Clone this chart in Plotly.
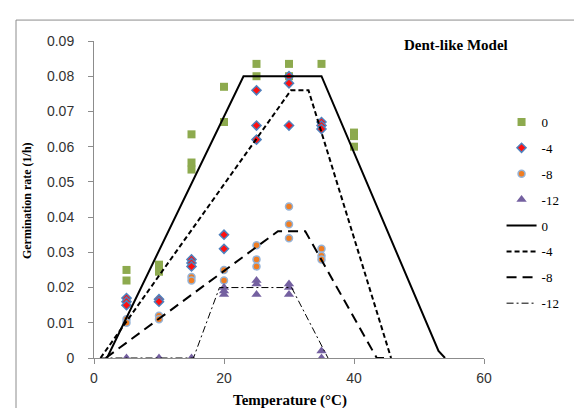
import plotly.graph_objects as go

# ---- observed data (temperature in °C, germination rate in 1/h) ----
obs0_T = [5, 5, 10, 10, 15, 15, 15, 20, 20, 25, 25, 30, 30, 35, 40, 40, 40]
obs0_R = [0.025, 0.022, 0.0265, 0.0245, 0.0635, 0.0555, 0.0535, 0.077, 0.067,
          0.0835, 0.080, 0.0835, 0.080, 0.0835, 0.064, 0.063, 0.060]

obs4_T = [5, 5, 5, 10, 10, 15, 15, 15, 20, 20, 25, 25, 25, 30, 30, 30, 35, 35, 35]
obs4_R = [0.017, 0.016, 0.015, 0.0167, 0.016, 0.028, 0.027, 0.026, 0.035, 0.031,
          0.076, 0.066, 0.062, 0.080, 0.078, 0.066, 0.067, 0.066, 0.065]

obs8_T = [5, 5, 10, 10, 15, 15, 20, 20, 25, 25, 25, 30, 30, 30, 35, 35, 35]
obs8_R = [0.011, 0.010, 0.012, 0.011, 0.023, 0.022, 0.025, 0.022, 0.032, 0.028,
          0.026, 0.043, 0.038, 0.034, 0.031, 0.029, 0.028]

obs12_T = [5, 10, 15, 20, 20, 20, 25, 25, 25, 30, 30, 30, 35, 35]
obs12_R = [0, 0, 0, 0.020, 0.019, 0.018, 0.022, 0.021, 0.018, 0.021, 0.020, 0.018,
           0.002, 0.0]

# ---- Dent-like model curves ----
mod0_T = [2, 23, 35, 53, 54]
mod0_R = [0, 0.080, 0.080, 0.002, 0]

mod4_T = [1, 30.3, 33, 45.7]
mod4_R = [0, 0.076, 0.076, 0]

mod8_T = [1.8, 28.3, 32.5, 43.5, 45]
mod8_R = [0, 0.036, 0.036, 0, 0]

mod12_T = [1, 15.3, 19.3, 30.4, 36]
mod12_R = [0, 0, 0.020, 0.020, 0]

fig = go.Figure()

SERIF = "Liberation Serif"

fig.add_trace(go.Scatter(x=obs0_T, y=obs0_R, mode="markers", name="0", legendgroup="a",
                         marker=dict(symbol="square", size=8, color="#8DAA4E",
                                     line=dict(width=0))))
fig.add_trace(go.Scatter(x=obs4_T, y=obs4_R, mode="markers", name="-4", legendgroup="b",
                         marker=dict(symbol="diamond", size=7, color="#FF1010",
                                     line=dict(width=1.5, color="#4F81BD"))))
fig.add_trace(go.Scatter(x=obs8_T, y=obs8_R, mode="markers", name="-8", legendgroup="c",
                         marker=dict(symbol="circle", size=7, color="#F07D22",
                                     line=dict(width=1.5, color="#95B3D7"))))
fig.add_trace(go.Scatter(x=obs12_T, y=obs12_R, mode="markers", name="-12", legendgroup="d",
                         marker=dict(symbol="triangle-up", size=9, color="#7460A0",
                                     line=dict(width=0))))

fig.add_trace(go.Scatter(x=mod0_T, y=mod0_R, mode="lines", name="0", legendgroup="e",
                         line=dict(color="black", width=2)))
fig.add_trace(go.Scatter(x=mod4_T, y=mod4_R, mode="lines", name="-4", legendgroup="f",
                         line=dict(color="black", width=2, dash="5px,3px")))
fig.add_trace(go.Scatter(x=mod8_T, y=mod8_R, mode="lines", name="-8", legendgroup="g",
                         line=dict(color="black", width=2, dash="10px,6px")))
fig.add_trace(go.Scatter(x=mod12_T, y=mod12_R, mode="lines", name="-12", legendgroup="h",
                         line=dict(color="black", width=1, dash="7px,3px,2px,3px")))

axis_common = dict(showgrid=False, zeroline=False, showline=True, linecolor="#8c8c8c",
                   linewidth=1, ticks="outside", ticklen=5, tickcolor="#8c8c8c",
                   tickfont=dict(family="Liberation Sans", size=14, color="#333333"))

fig.update_xaxes(range=[0, 60], tickvals=[0, 20, 40, 60], ticklabelstandoff=2, **axis_common)
fig.update_yaxes(range=[0, 0.09], tickvals=[0, 0.01, 0.02, 0.03, 0.04, 0.05, 0.06, 0.07, 0.08, 0.09],
                 ticktext=["0", "0.01", "0.02", "0.03", "0.04", "0.05", "0.06", "0.07", "0.08", "0.09"],
                 ticklabelstandoff=11, **axis_common)

fig.update_layout(
    width=582, height=408,
    margin=dict(l=86, r=106, t=33, b=58),
    paper_bgcolor="white", plot_bgcolor="white",
    showlegend=True,
    legend=dict(x=1.045, y=0.792, xanchor="left", yanchor="top",
                font=dict(family=SERIF, size=13, color="black"),
                tracegroupgap=6, bgcolor="rgba(0,0,0,0)"),
    annotations=[
        dict(text="<b>Dent-like Model</b>", xref="paper", yref="paper", x=0.928, y=0.987,
             xanchor="center", yanchor="middle",
             showarrow=False, font=dict(family=SERIF, size=15, color="black")),
        dict(text="<b>Temperature (°C)</b>", xref="paper", yref="paper", x=0.5026, y=-0.1325,
             xanchor="center", yanchor="middle",
             showarrow=False, font=dict(family=SERIF, size=15, color="black")),
        dict(text="<b>Germination rate (1/h)</b>", xref="paper", yref="paper", x=-0.172, y=0.498,
             xanchor="center", yanchor="middle",
             textangle=-90, showarrow=False, font=dict(family=SERIF, size=12, color="black")),
    ],
    shapes=[dict(type="rect", xref="paper", yref="paper", x0=-0.2, x1=1.3, y0=-0.3, y1=1.066,
                 line=dict(color="#8c8c8c", width=1), layer="below")],
)

fig.write_html("out.html")
